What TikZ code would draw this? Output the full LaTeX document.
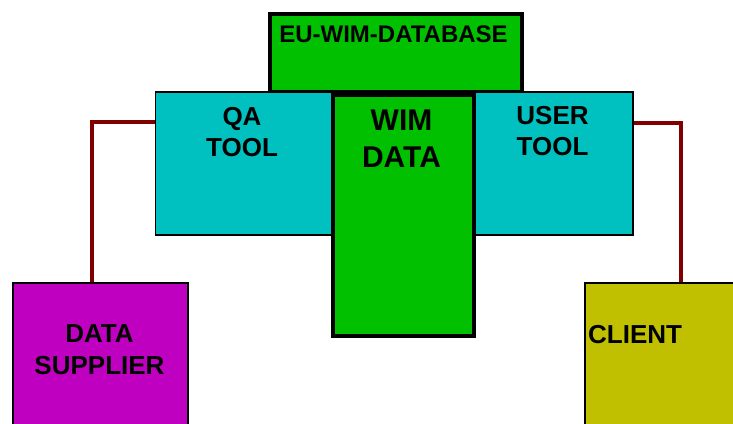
\documentclass[tikz,border=0pt]{standalone}
\usepackage{fontspec}
\setmainfont{Liberation Sans}
\definecolor{dbgreen}{HTML}{00C000}
\definecolor{tealbox}{HTML}{00C0C0}
\definecolor{supplierbox}{HTML}{C000C0}
\definecolor{clientbox}{HTML}{C0C000}
\definecolor{linkred}{HTML}{800000}
\begin{document}
\begin{tikzpicture}[x=1pt,y=-1pt,
  box/.style={draw=black,rectangle,inner sep=0pt,anchor=north west},
  thickbox/.style={box,line width=4pt},
  thinbox/.style={box,line width=1.6pt},
  label/.style={inner sep=0pt,font=\bfseries\fontsize{26}{31}\selectfont,align=center},
  link/.style={draw=linkred,line width=3.5pt}]
  \clip (0,0) rectangle (733,423);
  \fill[white] (0,0) rectangle (733,423);

  % database header
  \node[thickbox,fill=dbgreen,minimum width=252pt,minimum height=78pt] (db) at (267.5,11.5) {};
  \node[inner sep=0pt,anchor=base,font=\bfseries\fontsize{24}{28}\selectfont] (dbt) at (393.5,42) {EU-WIM-DATABASE};

  % tool boxes
  \node[thinbox,fill=tealbox,minimum width=176pt,minimum height=143pt] (qa) at (154.5,91) {};
  \node[thinbox,fill=tealbox,minimum width=159pt,minimum height=143pt] (user) at (473,91) {};
  \node[label] (qat) at (242,132) {QA\\TOOL};
  \node[label] (usert) at (552.5,131) {USER\\TOOL};

  % central data store
  \node[thickbox,fill=dbgreen,minimum width=141pt,minimum height=241pt] (wim) at (331,93) {};
  \node[label,font=\bfseries\fontsize{30}{37}\selectfont] (wimt) at (401.5,139) {WIM\\DATA};

  % actors
  \node[thinbox,fill=supplierbox,minimum width=175pt,minimum height=160pt] (sup) at (12,282) {};
  \node[label,font=\bfseries\fontsize{26}{32}\selectfont] (supt) at (99.5,350) {DATA\\SUPPLIER};
  \node[thinbox,fill=clientbox,minimum width=160pt,minimum height=160pt] (client) at (584,282) {};
  \node[inner sep=0pt,anchor=base west,font=\bfseries\fontsize{26}{31}\selectfont] (clientt) at (588,343) {CLIENT};

  % connectors
  \draw[link] ([yshift=-31pt]qa.north west) -| ([xshift=-8.5pt]sup.north);
  \draw[link] ([yshift=-32pt]user.north east) -| ([xshift=16pt]client.north);
\end{tikzpicture}
\end{document}
